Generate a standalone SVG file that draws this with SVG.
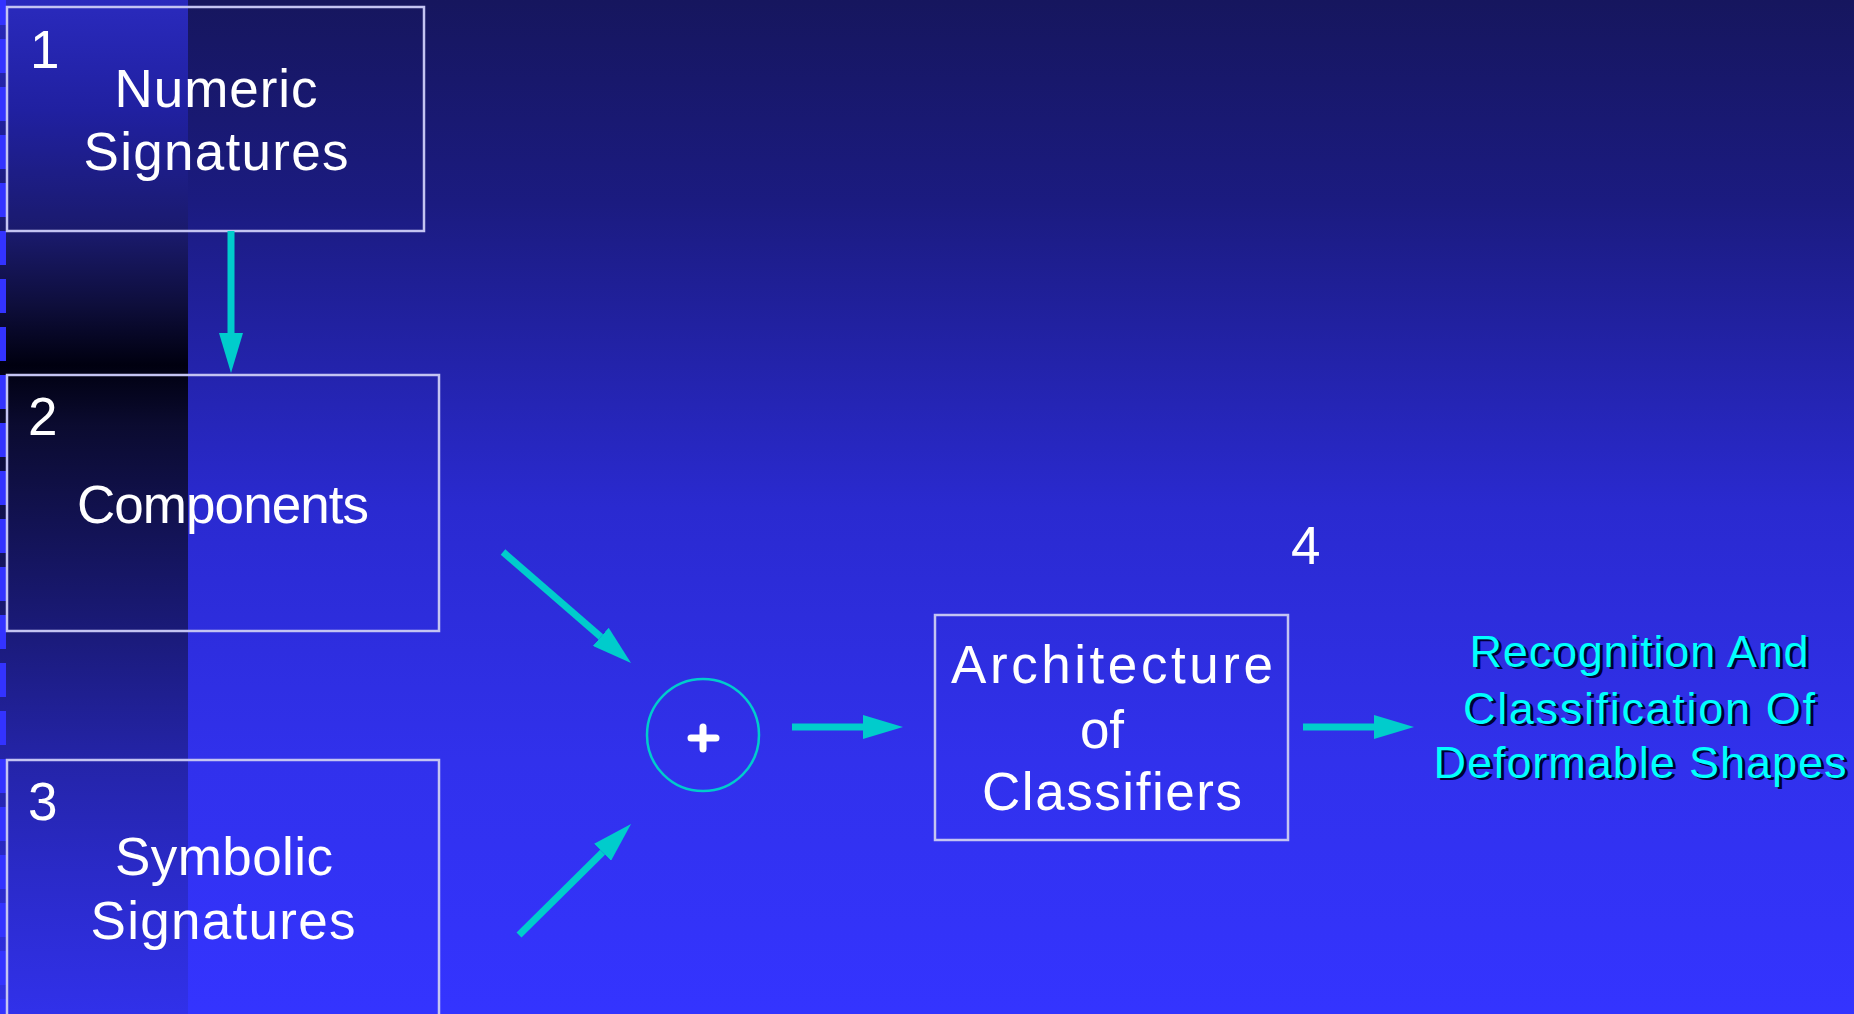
<svg xmlns="http://www.w3.org/2000/svg" width="1854" height="1014" viewBox="0 0 1854 1014">
  <defs>
    <linearGradient id="bg" x1="0" y1="0" x2="0" y2="1014" gradientUnits="userSpaceOnUse">
      <stop offset="0" stop-color="#16165e"/>
      <stop offset="0.2" stop-color="#1b1b80"/>
      <stop offset="0.5" stop-color="#2a2ad0"/>
      <stop offset="0.75" stop-color="#3131ec"/>
      <stop offset="1" stop-color="#3434ff"/>
    </linearGradient>
    <linearGradient id="strip" x1="0" y1="0" x2="0" y2="1014" gradientUnits="userSpaceOnUse">
      <stop offset="0" stop-color="#2a2abd"/>
      <stop offset="0.11" stop-color="#2020a0"/>
      <stop offset="0.23" stop-color="#1a1a6c"/>
      <stop offset="0.30" stop-color="#0e0e3c"/>
      <stop offset="0.36" stop-color="#000010"/>
      <stop offset="0.42" stop-color="#0b0b30"/>
      <stop offset="0.62" stop-color="#1a1a78"/>
      <stop offset="0.75" stop-color="#2424a8"/>
      <stop offset="0.86" stop-color="#2a2ac8"/>
      <stop offset="1" stop-color="#3131ea"/>
    </linearGradient>
    <marker id="ah" viewBox="0 0 40 24" refX="0" refY="12" markerWidth="40" markerHeight="24" markerUnits="userSpaceOnUse" orient="auto">
      <path d="M0,0 L40,12 L0,24 Z" fill="#00cccc"/>
    </marker>
  </defs>
  <style>
    .box { fill: none; stroke: #c4c4f2; stroke-width: 2.5; }
    .lbl { font-family: "Comic Sans MS", "Liberation Sans", sans-serif; font-size: 53px; fill: #ffffff; text-anchor: middle; }
    .num { font-family: "Comic Sans MS", "Liberation Sans", sans-serif; font-size: 53px; fill: #ffffff; }
    .out { font-family: "Comic Sans MS", "Liberation Sans", sans-serif; font-size: 45px; text-anchor: middle; }
    .cyan { fill: #00ffff; }
    .shadow { fill: #000033; }
    .conn { stroke: #00cccc; stroke-width: 7; fill: none; marker-end: url(#ah); }
  </style>

  <rect x="0" y="0" width="1854" height="1014" fill="url(#bg)"/>
  <rect x="0" y="0" width="188" height="1014" fill="url(#strip)"/>
  <line x1="3" y1="0" x2="3" y2="1014" stroke="#3333ff" stroke-width="6" stroke-dasharray="34 14" stroke-dashoffset="9"/>

  <g id="node1">
    <rect class="box" x="7" y="7" width="417" height="224"/>
    <text class="num" x="30" y="68">1</text>
    <text class="lbl" x="216" y="107" textLength="203">Numeric</text>
    <text class="lbl" x="216" y="170" textLength="265">Signatures</text>
  </g>

  <g id="node2">
    <rect class="box" x="7" y="375" width="432" height="256"/>
    <text class="num" x="28" y="435">2</text>
    <text class="lbl" x="223" y="523" textLength="292">Components</text>
  </g>

  <g id="node3">
    <rect class="box" x="7" y="760" width="432" height="270"/>
    <text class="num" x="28" y="820">3</text>
    <text class="lbl" x="224" y="875" textLength="218">Symbolic</text>
    <text class="lbl" x="223" y="939" textLength="265">Signatures</text>
  </g>

  <g id="sum">
    <circle cx="703" cy="735" r="56" fill="none" stroke="#00cccc" stroke-width="2.5"/>
    <path d="M691,738 H716 M703,727 V749" stroke="#ffffff" stroke-width="7" stroke-linecap="round"/>
  </g>

  <g id="node4">
    <rect class="box" x="935" y="615" width="353" height="225"/>
    <text class="lbl" x="1112" y="683" textLength="322">Architecture</text>
    <text class="lbl" x="1102" y="748">of</text>
    <text class="lbl" x="1112" y="810" textLength="260">Classifiers</text>
    <text class="num" x="1291" y="564">4</text>
  </g>

  <g id="output">
    <text class="out shadow" x="1642" y="669" textLength="339">Recognition And</text>
    <text class="out shadow" x="1642" y="726" textLength="352">Classification Of</text>
    <text class="out shadow" x="1643" y="780" textLength="413">Deformable Shapes</text>
    <text class="out cyan" x="1639" y="667" textLength="339">Recognition And</text>
    <text class="out cyan" x="1639" y="724" textLength="352">Classification Of</text>
    <text class="out cyan" x="1640" y="778" textLength="413">Deformable Shapes</text>
  </g>

  <g id="connectors">
    <line class="conn" x1="231" y1="231" x2="231" y2="333"/>
    <line class="conn" x1="503" y1="552" x2="600.8" y2="636.8"/>
    <line class="conn" x1="519" y1="935" x2="602.6" y2="852.2"/>
    <line class="conn" x1="792" y1="727" x2="863" y2="727"/>
    <line class="conn" x1="1303" y1="727" x2="1374" y2="727"/>
  </g>
</svg>
